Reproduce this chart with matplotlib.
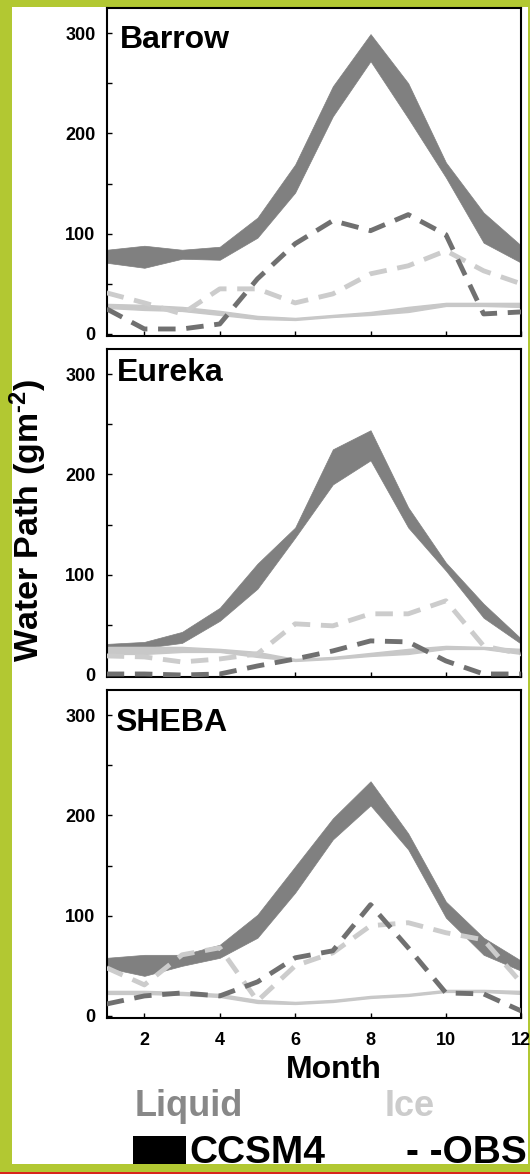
import numpy as np
import matplotlib
matplotlib.use('Agg')
import matplotlib.pyplot as plt
from matplotlib.patches import Rectangle

plt.rcParams['font.family'] = ['Liberation Sans', 'DejaVu Sans']
plt.rcParams['font.weight'] = 'bold'
plt.rcParams['mathtext.fontset'] = 'custom'
plt.rcParams['mathtext.rm'] = 'Liberation Sans:bold'
plt.rcParams['mathtext.default'] = 'rm'

months = np.arange(1, 13)
stations = ['Barrow', 'Eureka', 'SHEBA']

# CCSM4 liquid water path band (upper / lower edge)
barrow_liq_hi = [84, 88, 84, 87, 116, 169, 247, 299, 250, 171, 121, 88]
barrow_liq_lo = [71, 66, 75, 74, 96, 141, 217, 272, 215, 156, 91, 71]
eureka_liq_hi = [31, 33, 43, 67, 111, 147, 225, 244, 167, 112, 71, 36]
eureka_liq_lo = [23, 27, 32, 54, 86, 137, 190, 214, 147, 104, 57, 31]
sheba_liq_hi = [58, 61, 61, 71, 101, 149, 197, 234, 182, 114, 78, 55]
sheba_liq_lo = [48, 40, 50, 58, 78, 123, 176, 210, 166, 98, 61, 45]

# CCSM4 ice water path band
barrow_ice_hi = [30, 29, 27, 23, 18, 16, 19, 22, 27, 31, 31, 31]
barrow_ice_lo = [26, 24, 23, 19, 15, 14, 17, 19, 22, 28, 28, 27]
eureka_ice_hi = [28, 28, 28, 26, 23, 16, 18, 22, 26, 29, 28, 26]
eureka_ice_lo = [21, 21, 23, 23, 18, 14, 16, 19, 21, 26, 26, 21]
sheba_ice_hi = [25, 25, 24, 22, 16, 14, 16, 20, 22, 26, 26, 25]
sheba_ice_lo = [22, 22, 21, 19, 13, 12, 14, 18, 20, 24, 24, 22]

# observations
barrow_obs_liq = [25, 5, 5, 10, 55, 90, 113, 103, 119, 99, 20, 22]
barrow_obs_ice = [41, 31, 20, 45, 45, 31, 40, 60, 68, 83, 63, 50]
eureka_obs_liq = [1, 1, 0, 1, 9, 16, 24, 34, 33, 14, 1, 1]
eureka_obs_ice = [19, 18, 13, 16, 21, 51, 49, 61, 61, 74, 29, 21]
sheba_obs_liq = [12, 20, 23, 20, 34, 58, 65, 111, 68, 23, 22, 5]
sheba_obs_ice = [48, 31, 61, 68, 15, 50, 63, 90, 93, 83, 76, 33]

liq_hi = [barrow_liq_hi, eureka_liq_hi, sheba_liq_hi]
liq_lo = [barrow_liq_lo, eureka_liq_lo, sheba_liq_lo]
ice_hi = [barrow_ice_hi, eureka_ice_hi, sheba_ice_hi]
ice_lo = [barrow_ice_lo, eureka_ice_lo, sheba_ice_lo]
obs_liq = [barrow_obs_liq, eureka_obs_liq, sheba_obs_liq]
obs_ice = [barrow_obs_ice, eureka_obs_ice, sheba_obs_ice]

# label placement (data coords)
label_pos = [(1.35, 285), (1.26, 293), (1.22, 284)]

W, H = 530.0, 1174.0


def fx(px):
    return px / W


def fy(py):
    return 1 - py / H


fig = plt.figure(figsize=(5.3, 11.74), dpi=100)
fig.patch.set_facecolor('#b2c832')
fig.add_artist(Rectangle((fx(12), fy(1164)), fx(527.5) - fx(12), (1164 - 7) / H,
                         transform=fig.transFigure, facecolor='white',
                         edgecolor='none', zorder=0))
fig.add_artist(Rectangle((0, 0), 1, 2.5 / H, transform=fig.transFigure,
                         facecolor='#d8261c', edgecolor='none', zorder=0))

tops = [8, 349, 690]
ax_h = 328
left, right = 106.7, 521.3
dash = (0, (3.6, 2.2))

for i in range(3):
    ax = fig.add_axes([fx(left), fy(tops[i] + ax_h), fx(right) - fx(left), ax_h / H])
    ax.fill_between(months, liq_lo[i], liq_hi[i], color='#808080', lw=0.5, zorder=2)
    ax.fill_between(months, ice_lo[i], ice_hi[i], color='#c8c8c8', lw=1.0, zorder=2)
    ax.plot(months, obs_ice[i], color='#cccccc', lw=3.5, ls=dash, zorder=3)
    ax.plot(months, obs_liq[i], color='#707070', lw=3.5, ls=dash, zorder=4)
    ax.set_xlim(1, 12)
    ax.set_ylim(-2, 325)
    ax.set_yticks([0, 100, 200, 300])
    ax.set_yticks([50, 150, 250], minor=True)
    ax.set_xticks([2, 4, 6, 8, 10, 12])
    ax.tick_params(which='both', direction='in', length=3.5, width=1,
                   labelsize=13, pad=8)
    ax.tick_params(axis='x', pad=10)
    if i < 2:
        ax.tick_params(labelbottom=False)
    for s in ax.spines.values():
        s.set_linewidth(1.5)
    ax.text(label_pos[i][0], label_pos[i][1], stations[i], fontsize=23,
            fontweight='bold', va='baseline', zorder=5)

fig.text(fx(28), fy(520), r'Water Path (gm$^{\text{-2}}$)', rotation=90,
         ha='center', va='center', fontsize=24.5)
fig.text(fx(334), fy(1078), 'Month', ha='center', va='baseline', fontsize=23)
fig.text(fx(135), fy(1116), 'Liquid', color='#888888', ha='left',
         va='baseline', fontsize=26)
fig.text(fx(385), fy(1116), 'Ice', color='#cccccc', ha='left',
         va='baseline', fontsize=26)
fig.add_artist(Rectangle((fx(133), fy(1164)), fx(186) - fx(133), 28 / H,
                         transform=fig.transFigure, facecolor='black',
                         edgecolor='none'))
fig.text(fx(189), fy(1163), 'CCSM4', ha='left', va='baseline', fontsize=28)
fig.text(fx(527), fy(1163), '- -OBS', ha='right', va='baseline', fontsize=28)

fig.savefig('out.png', dpi=100, facecolor=fig.get_facecolor())
